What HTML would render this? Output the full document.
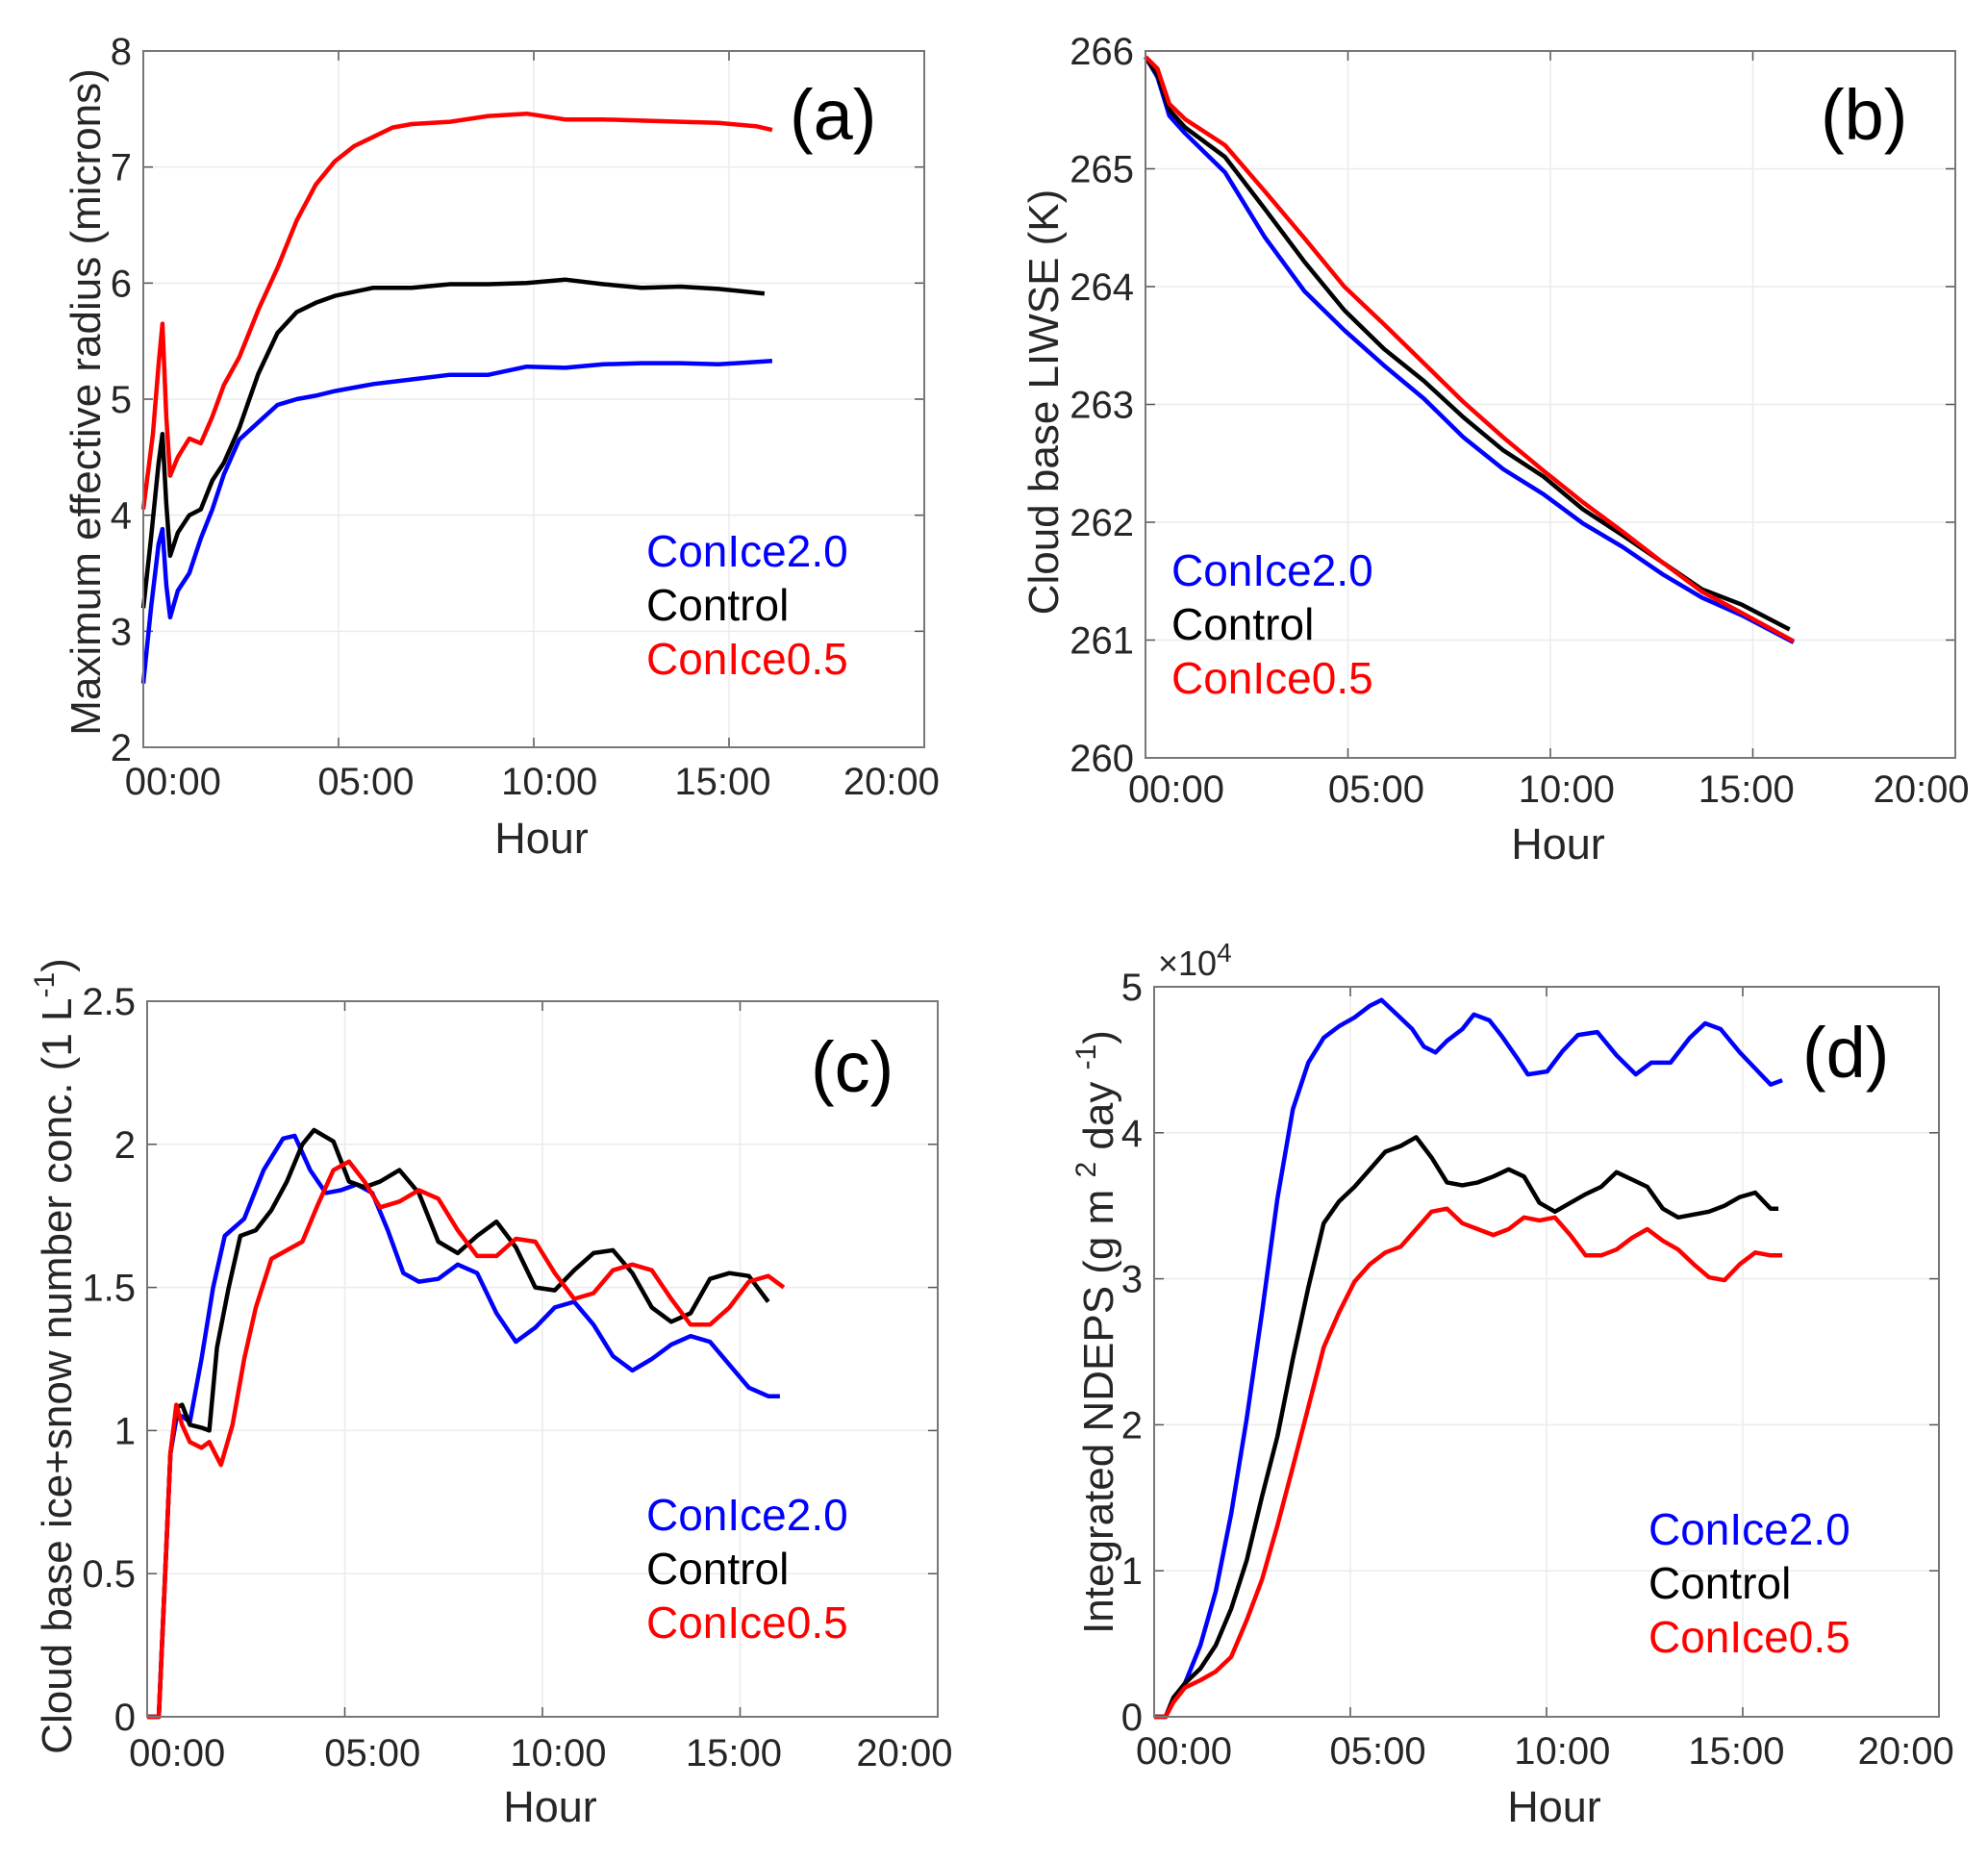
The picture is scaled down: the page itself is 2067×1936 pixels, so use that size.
<!DOCTYPE html>
<html><head><meta charset="utf-8"><style>
html,body{margin:0;padding:0;background:#fff}
svg{display:block;font-family:"Liberation Sans",Arial,sans-serif}
</style></head><body>
<svg id="fig" width="2067" height="1936" viewBox="0 0 2067 1936" xmlns="http://www.w3.org/2000/svg"></svg>
<script>
// ---- Panel (a): Maximum effective radius (microns)
const aBlueT=[0,0.2,0.4,0.5,0.6,0.7,0.9,1.2,1.5,1.8,2.1,2.5,3,3.5,4,4.5,5,6,7,8,9,10,11,12,13,14,15,16.4];
const aBlueV=[2.55,3.2,3.75,3.88,3.4,3.12,3.35,3.5,3.8,4.05,4.35,4.65,4.8,4.95,5.0,5.03,5.07,5.13,5.17,5.21,5.21,5.28,5.27,5.30,5.31,5.31,5.30,5.33];
const aBlackT=[0,0.2,0.4,0.5,0.6,0.7,0.9,1.2,1.5,1.8,2.1,2.5,3,3.5,4,4.5,5,6,7,8,9,10,11,12,13,14,15,16.2];
const aBlackV=[3.2,3.8,4.45,4.7,4.1,3.65,3.85,4.0,4.05,4.3,4.45,4.75,5.22,5.57,5.75,5.83,5.89,5.96,5.96,5.99,5.99,6.0,6.03,5.99,5.96,5.97,5.95,5.91];
const aRedT=[0,0.25,0.4,0.5,0.6,0.7,0.9,1.2,1.5,1.8,2.1,2.5,3,3.5,4,4.5,5,5.5,6,6.5,7,8,9,10,11,12,13,14,15,16,16.4];
const aRedV=[4.05,4.7,5.3,5.65,4.85,4.34,4.5,4.66,4.62,4.85,5.12,5.36,5.77,6.13,6.54,6.85,7.05,7.18,7.26,7.34,7.37,7.39,7.44,7.46,7.41,7.41,7.40,7.39,7.38,7.35,7.32];
const aYTicks=[2,3,4,5,6,7,8];
// ---- Panel (b): Cloud base LIWSE (K)
const bT=[0,0.3,0.6,1,2,3,4,5,6,7,8,9,10,11,12,13,14,15,16.3];
const bBlueV=[265.95,265.78,265.45,265.3,264.97,264.42,263.96,263.63,263.33,263.05,262.72,262.45,262.24,261.99,261.79,261.56,261.36,261.21,260.98];
const bBlackT=[0,0.3,0.6,1,2,3,4,5,6,7,8,9,10,11,12,13,14,15,16.2];
const bBlackV=[265.95,265.8,265.5,265.35,265.1,264.66,264.21,263.8,263.47,263.2,262.89,262.61,262.39,262.11,261.89,261.66,261.43,261.3,261.09];
const bRedV=[265.95,265.85,265.55,265.42,265.2,264.81,264.41,264.0,263.68,263.35,263.02,262.72,262.44,262.17,261.92,261.66,261.41,261.23,260.99];
const bYTicks=[260,261,262,263,264,265,266];
// ---- Panel (c): Cloud base ice+snow number conc.
const cBlueT=[0,0.3,0.45,0.6,0.75,0.9,1.1,1.4,1.7,2,2.5,3,3.5,3.8,4.2,4.6,5,5.4,5.8,6.2,6.6,7,7.5,8,8.5,9,9.5,10,10.5,11,11.5,12,12.5,13,13.5,14,14.5,15,15.5,16,16.3];
const cBlueV=[0,0,0.46,0.92,1.04,1.05,1.03,1.25,1.5,1.68,1.74,1.91,2.02,2.03,1.91,1.83,1.84,1.86,1.83,1.7,1.55,1.52,1.53,1.58,1.55,1.41,1.31,1.36,1.43,1.45,1.37,1.26,1.21,1.25,1.3,1.33,1.31,1.23,1.15,1.12,1.12];
const cBlackT=[0,0.3,0.45,0.6,0.75,0.9,1.1,1.4,1.6,1.8,2.1,2.4,2.8,3.2,3.6,4,4.3,4.8,5.2,5.6,6,6.5,7,7.5,8,8.5,9,9.5,10,10.5,11,11.5,12,12.5,13,13.5,14,14.5,15,15.5,16];
const cBlackV=[0,0,0.46,0.92,1.08,1.09,1.02,1.01,1.0,1.29,1.5,1.68,1.7,1.77,1.87,2.0,2.05,2.01,1.87,1.85,1.87,1.91,1.83,1.66,1.62,1.68,1.73,1.64,1.5,1.49,1.56,1.62,1.63,1.55,1.43,1.38,1.41,1.53,1.55,1.54,1.45];
const cRedT=[0,0.3,0.45,0.6,0.75,0.9,1.1,1.4,1.6,1.9,2.2,2.5,2.8,3.2,3.6,4,4.4,4.8,5.2,5.6,6,6.5,7,7.5,8,8.5,9,9.5,10,10.5,11,11.5,12,12.5,13,13.5,14,14.5,15,15.5,16,16.4];
const cRedV=[0,0,0.46,0.92,1.09,1.02,0.96,0.94,0.96,0.88,1.02,1.25,1.43,1.6,1.63,1.66,1.79,1.91,1.94,1.87,1.78,1.8,1.84,1.81,1.7,1.61,1.61,1.67,1.66,1.55,1.46,1.48,1.56,1.58,1.56,1.46,1.37,1.37,1.43,1.52,1.54,1.5];
const cYTicks=[0,0.5,1,1.5,2,2.5];
// ---- Panel (d): Integrated NDEPS (x10^4)
const dT=[0,0.3,0.5,0.8,1.2,1.6,2,2.4,2.8,3.2,3.6,4,4.4,4.8,5.2,5.6,5.9,6.3,6.7,7,7.3,7.6,8,8.3,8.7,9,9.4,9.7,10.2,10.6,11,11.5,12,12.5,12.9,13.4,13.9,14.3,14.7,15.2,15.6,16,16.3];
const dBlueV=[0,0,0.13,0.23,0.49,0.86,1.39,2.04,2.77,3.55,4.16,4.48,4.65,4.73,4.79,4.87,4.91,4.81,4.71,4.59,4.55,4.63,4.71,4.81,4.77,4.67,4.52,4.4,4.42,4.56,4.67,4.69,4.53,4.4,4.48,4.48,4.65,4.75,4.71,4.55,4.44,4.33,4.36];
const dBT=[0,0.3,0.5,0.8,1.2,1.6,2,2.4,2.8,3.2,3.6,4,4.4,4.8,5.2,5.6,6,6.4,6.8,7.2,7.6,8,8.4,8.8,9.2,9.6,10,10.4,10.8,11.2,11.6,12,12.4,12.8,13.2,13.6,14,14.4,14.8,15.2,15.6,16,16.2];
const dBlackV=[0,0,0.13,0.23,0.33,0.49,0.74,1.07,1.51,1.92,2.45,2.94,3.38,3.53,3.63,3.75,3.87,3.91,3.97,3.83,3.66,3.64,3.66,3.7,3.75,3.7,3.52,3.46,3.52,3.58,3.63,3.73,3.68,3.63,3.48,3.42,3.44,3.46,3.5,3.56,3.59,3.48,3.48];
const dRT=[0,0.3,0.5,0.8,1.2,1.6,2,2.4,2.8,3.2,3.6,4,4.4,4.8,5.2,5.6,6,6.4,6.8,7.2,7.6,8,8.4,8.8,9.2,9.6,10,10.4,10.8,11.2,11.6,12,12.4,12.8,13.2,13.6,14,14.4,14.8,15.2,15.6,16,16.3];
const dRedV=[0,0,0.1,0.2,0.25,0.31,0.41,0.66,0.94,1.31,1.71,2.12,2.53,2.77,2.98,3.1,3.18,3.22,3.34,3.46,3.48,3.38,3.34,3.3,3.34,3.42,3.4,3.42,3.3,3.16,3.16,3.2,3.28,3.34,3.26,3.2,3.1,3.01,2.99,3.1,3.18,3.16,3.16];
const dYTicks=[0,1,2,3,4,5];
const xTickLabels=['00:00','05:00','10:00','15:00','20:00'];
const xTickVals=[0,5,10,15,20];
const legendNames=['ConIce2.0','Control','ConIce0.5'];

const NS='http://www.w3.org/2000/svg';
const svg=document.getElementById('fig');
const lblFrac=[0.038,0.285,0.52,0.742,0.958];
const TSCALE=0.982;
function mk(tag,attrs,parent){const e=document.createElementNS(NS,tag);for(const k in attrs)e.setAttribute(k,attrs[k]);(parent||svg).appendChild(e);return e;}

function panel(p){
  const g=mk('g',{});
  
  
  const W=p.R-p.L,H=p.B-p.T;
  const xs=t=>p.L+t/20*W;
  const xd=t=>xs(t*TSCALE);
  const ys=v=>p.B-(v-p.ymin)/(p.ymax-p.ymin)*H;
  xTickVals.forEach(v=>{const l=mk('line',{x1:xs(v),x2:xs(v),y1:p.T,y2:p.B,stroke:'#ebebeb','stroke-width':1.5},g);
    });
  p.yt.forEach(v=>{const l=mk('line',{x1:p.L,x2:p.R,y1:ys(v),y2:ys(v),stroke:'#ebebeb','stroke-width':1.5},g);
    });
  xTickVals.forEach(v=>{mk('line',{x1:xs(v),x2:xs(v),y1:p.B,y2:p.B-10,stroke:'#555','stroke-width':1.5},g);mk('line',{x1:xs(v),x2:xs(v),y1:p.T,y2:p.T+10,stroke:'#555','stroke-width':1.5},g);});
  p.yt.forEach(v=>{mk('line',{x1:p.L,x2:p.L+10,y1:ys(v),y2:ys(v),stroke:'#555','stroke-width':1.5},g);mk('line',{x1:p.R,x2:p.R-10,y1:ys(v),y2:ys(v),stroke:'#555','stroke-width':1.5},g);});
  p.series.forEach(s=>{
    const d=s.t.map((t,i)=>(i?'L':'M')+xd(t).toFixed(1)+' '+ys(s.v[i]).toFixed(1)).join(' ');
    const e=mk('path',{d:d,fill:'none',stroke:s.c,'stroke-width':4.5,'stroke-linejoin':'round'},g);
    
    
  });
  const bx=mk('rect',{x:p.L,y:p.T,width:W,height:H,fill:'none',stroke:'#777','stroke-width':2},g);
  
  xTickLabels.forEach((s,i)=>{const t=mk('text',{x:p.L+lblFrac[i]*W,y:p.xtb,'font-size':40,fill:'#262626','text-anchor':'middle'},g);t.textContent=s;
    });
  p.yt.forEach(v=>{const t=mk('text',{x:p.L-12,y:ys(v)+14,'font-size':40,fill:'#262626','text-anchor':'end'},g);t.textContent=p.fmt(v);
    });
  const hx=mk('text',{x:(p.L+p.R)/2+8,y:p.hb,'font-size':45,fill:'#262626','text-anchor':'middle'},g);hx.textContent='Hour';
  
  const yl=mk('text',{x:0,y:0,'font-size':p.ylfs||44,fill:'#262626','text-anchor':'middle',transform:`translate(${p.ylx},${p.yly}) rotate(-90)`},g);
  yl.innerHTML=p.ylab;
  
  const pl=mk('text',{x:p.plx,y:p.ply,'font-size':74,fill:'#000'},g);pl.textContent='('+p.id+')';
  
  const cols=['#0000ff','#000000','#ff0000'];
  legendNames.forEach((n,i)=>{const t=mk('text',{x:p.lgx,y:p.lgy+i*56,'font-size':46,fill:cols[i]},g);t.textContent=n;
    });
  if(p.exp){const t=mk('text',{x:p.L+4,y:p.T-12,'font-size':36,fill:'#262626'},g);t.innerHTML='×10<tspan dy="-14" font-size="28">4</tspan>';
    }
}
panel({id:'a',L:149,R:961,T:53,B:777,ymin:2,ymax:8,yt:aYTicks,fmt:v=>String(v),xtb:826,hb:887,
  ylx:104,yly:418,ylab:'Maximum effective radius (microns)',plx:821,ply:145,lgx:672,lgy:589,
  series:[{n:'conice2',c:'#0000ff',t:aBlueT,v:aBlueV},{n:'control',c:'#000',t:aBlackT,v:aBlackV},{n:'conice05',c:'#ff0000',t:aRedT,v:aRedV}]});
panel({id:'b',L:1191,R:2033,T:53,B:788,ymin:260,ymax:266,yt:bYTicks,fmt:v=>String(v),xtb:834,hb:893,
  ylx:1100,yly:418,ylab:'Cloud base LIWSE (K)',plx:1893,ply:145,lgx:1218,lgy:609,
  series:[{n:'conice2',c:'#0000ff',t:bT,v:bBlueV},{n:'control',c:'#000',t:bBlackT,v:bBlackV},{n:'conice05',c:'#ff0000',t:bT,v:bRedV}]});
panel({id:'c',L:153,R:975,T:1041,B:1785,ymin:0,ymax:2.5,yt:cYTicks,fmt:v=>String(v),xtb:1836,hb:1894,
  ylx:74,yly:1410,ylab:'Cloud base ice+snow number conc. (1 L<tspan dy="-18" font-size="30">-1</tspan><tspan dy="18">)</tspan>',plx:843,ply:1135,lgx:672,lgy:1591,
  series:[{n:'conice2',c:'#0000ff',t:cBlueT,v:cBlueV},{n:'control',c:'#000',t:cBlackT,v:cBlackV},{n:'conice05',c:'#ff0000',t:cRedT,v:cRedV}]});
panel({id:'d',L:1200,R:2016,T:1026,B:1785,ymin:0,ymax:5,yt:dYTicks,fmt:v=>String(v),xtb:1834,hb:1894,exp:true,
  ylx:1157,yly:1385,ylab:'Integrated NDEPS (g m <tspan dy="-18" font-size="30">2</tspan><tspan dy="18"> day </tspan><tspan dy="-18" font-size="30">-1</tspan><tspan dy="18">)</tspan>',plx:1874,ply:1120,lgx:1714,lgy:1606,
  series:[{n:'conice2',c:'#0000ff',t:dT,v:dBlueV},{n:'control',c:'#000',t:dBT,v:dBlackV},{n:'conice05',c:'#ff0000',t:dRT,v:dRedV}]});
</script>
</body></html>
